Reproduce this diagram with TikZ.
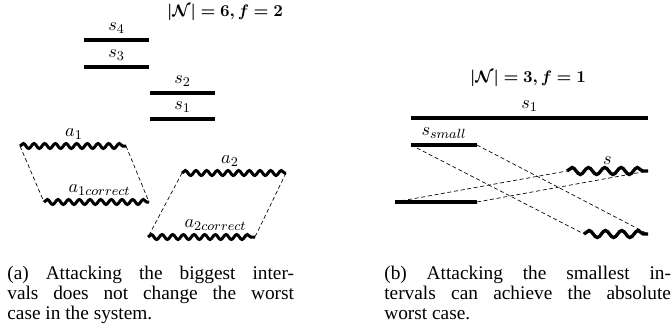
\documentclass[tikz,border=0pt]{standalone}
\usepackage{amssymb,amsmath}
\usepackage{bm}
\usepackage{fontspec}
\setmainfont{Liberation Serif}
\usepackage{tikz}
\usetikzlibrary{positioning}
\usetikzlibrary{calc}
\usetikzlibrary{decorations.pathmorphing}
\tikzstyle{bar} = [draw,line width=2.4pt]
\tikzstyle{wave} = [draw,line width=1.8pt,decorate,decoration={snake,segment length=6.4pt,amplitude=1.5pt}]
\tikzstyle{bigwave} = [draw,line width=2pt,decorate,decoration={snake,segment length=9.8pt,amplitude=2.1pt}]
\tikzstyle{link} = [draw,dash pattern=on 2.4pt off 1.6pt,line width=0.4pt]
\tikzstyle{intlabel} = [above=1pt,inner sep=2pt,font=\fontsize{11}{13}\selectfont]
\tikzstyle{subcaption} = [anchor=north west,inner sep=0pt,text width=172pt,align=justify,font=\fontsize{11.6}{12}\selectfont]

\begin{document}
\begin{tikzpicture}[x=0.6pt,y=-0.6pt]

\useasboundingbox (0,0) rectangle (672,332);

%(a) biggest intervals
\node (titlea) at (225,12) {$\bm{|\mathcal{N}| = 6, f = 2}$};

    \foreach \pos/\name in {{(84,40)/s4l},{(149,40)/s4r},{(84,67)/s3l},{(149,67)/s3r},
                            {(150,93)/s2l},{(215,93)/s2r},{(150,119)/s1l},{(215,119)/s1r}}
        \node[coordinate] (\name) at \pos {};

    \foreach \pos/\name in {{(20,146)/a1l},{(126,146)/a1r},{(44,202)/a1cl},{(149,202)/a1cr},
                            {(182,173)/a2l},{(286,173)/a2r},{(148,237)/a2cl},{(255,237)/a2cr}}
        \node[coordinate] (\name) at \pos {};

    % correct intervals
    \foreach \l/\r/\txt in {s4l/s4r/s_4, s3l/s3r/s_3, s2l/s2r/s_2, s1l/s1r/s_1}
        \path[bar] (\l) -- node[intlabel] {$\txt$} (\r);

    % attacked intervals
    \foreach \l/\r/\txt/\dx in {a1l/a1r/a_1/1, a1cl/a1cr/a_{1correct}/3, a2l/a2r/a_2/-4, a2cl/a2cr/a_{2correct}/14}
        \path[wave] (\l) -- node[intlabel,xshift=\dx*0.6pt] {$\txt$} (\r);

    \foreach \source/\dest in {a1l/a1cl, a1r/a1cr, a2l/a2cl, a2r/a2cr}
        \path[link] (\source) -- (\dest);

%(b) smallest intervals
\node (titleb) at (528,78) {$\bm{|\mathcal{N}| = 3, f = 1}$};

    \foreach \pos/\name in {{(411,118)/b1l},{(648,118)/b1r},{(411,145)/bsl},{(477,145)/bsr},
                            {(395,202)/bll},{(477,202)/blr}}
        \node[coordinate] (\name) at \pos {};

    \foreach \pos/\name in {{(567,171)/wsl},{(648,171)/wsr},{(584,234)/wll},{(648,234)/wlr}}
        \node[coordinate] (\name) at \pos {};

    \foreach \l/\r/\txt in {b1l/b1r/s_1, bsl/bsr/s_{small}}
        \path[bar] (\l) -- node[intlabel] {$\txt$} (\r);
    \path[bar] (bll) -- (blr);

    \path[bigwave] (wsl) -- node[intlabel] {$s$} (wsr);
    \path[bigwave] (wll) -- (wlr);

    \foreach \source/\dest in {bsl/wll, bsr/wlr, bll/wsl, blr/wsr}
        \path[link] (\source) -- (\dest);

% captions
\node[subcaption] (capa) at (7,266) {(a) Attacking the biggest inter-\linebreak vals does not change the worst\linebreak case in the system.};
\node[subcaption] (capb) at (384,266) {(b) Attacking the smallest in-\linebreak tervals can achieve the absolute\linebreak worst case.};

\end{tikzpicture}
\end{document}
